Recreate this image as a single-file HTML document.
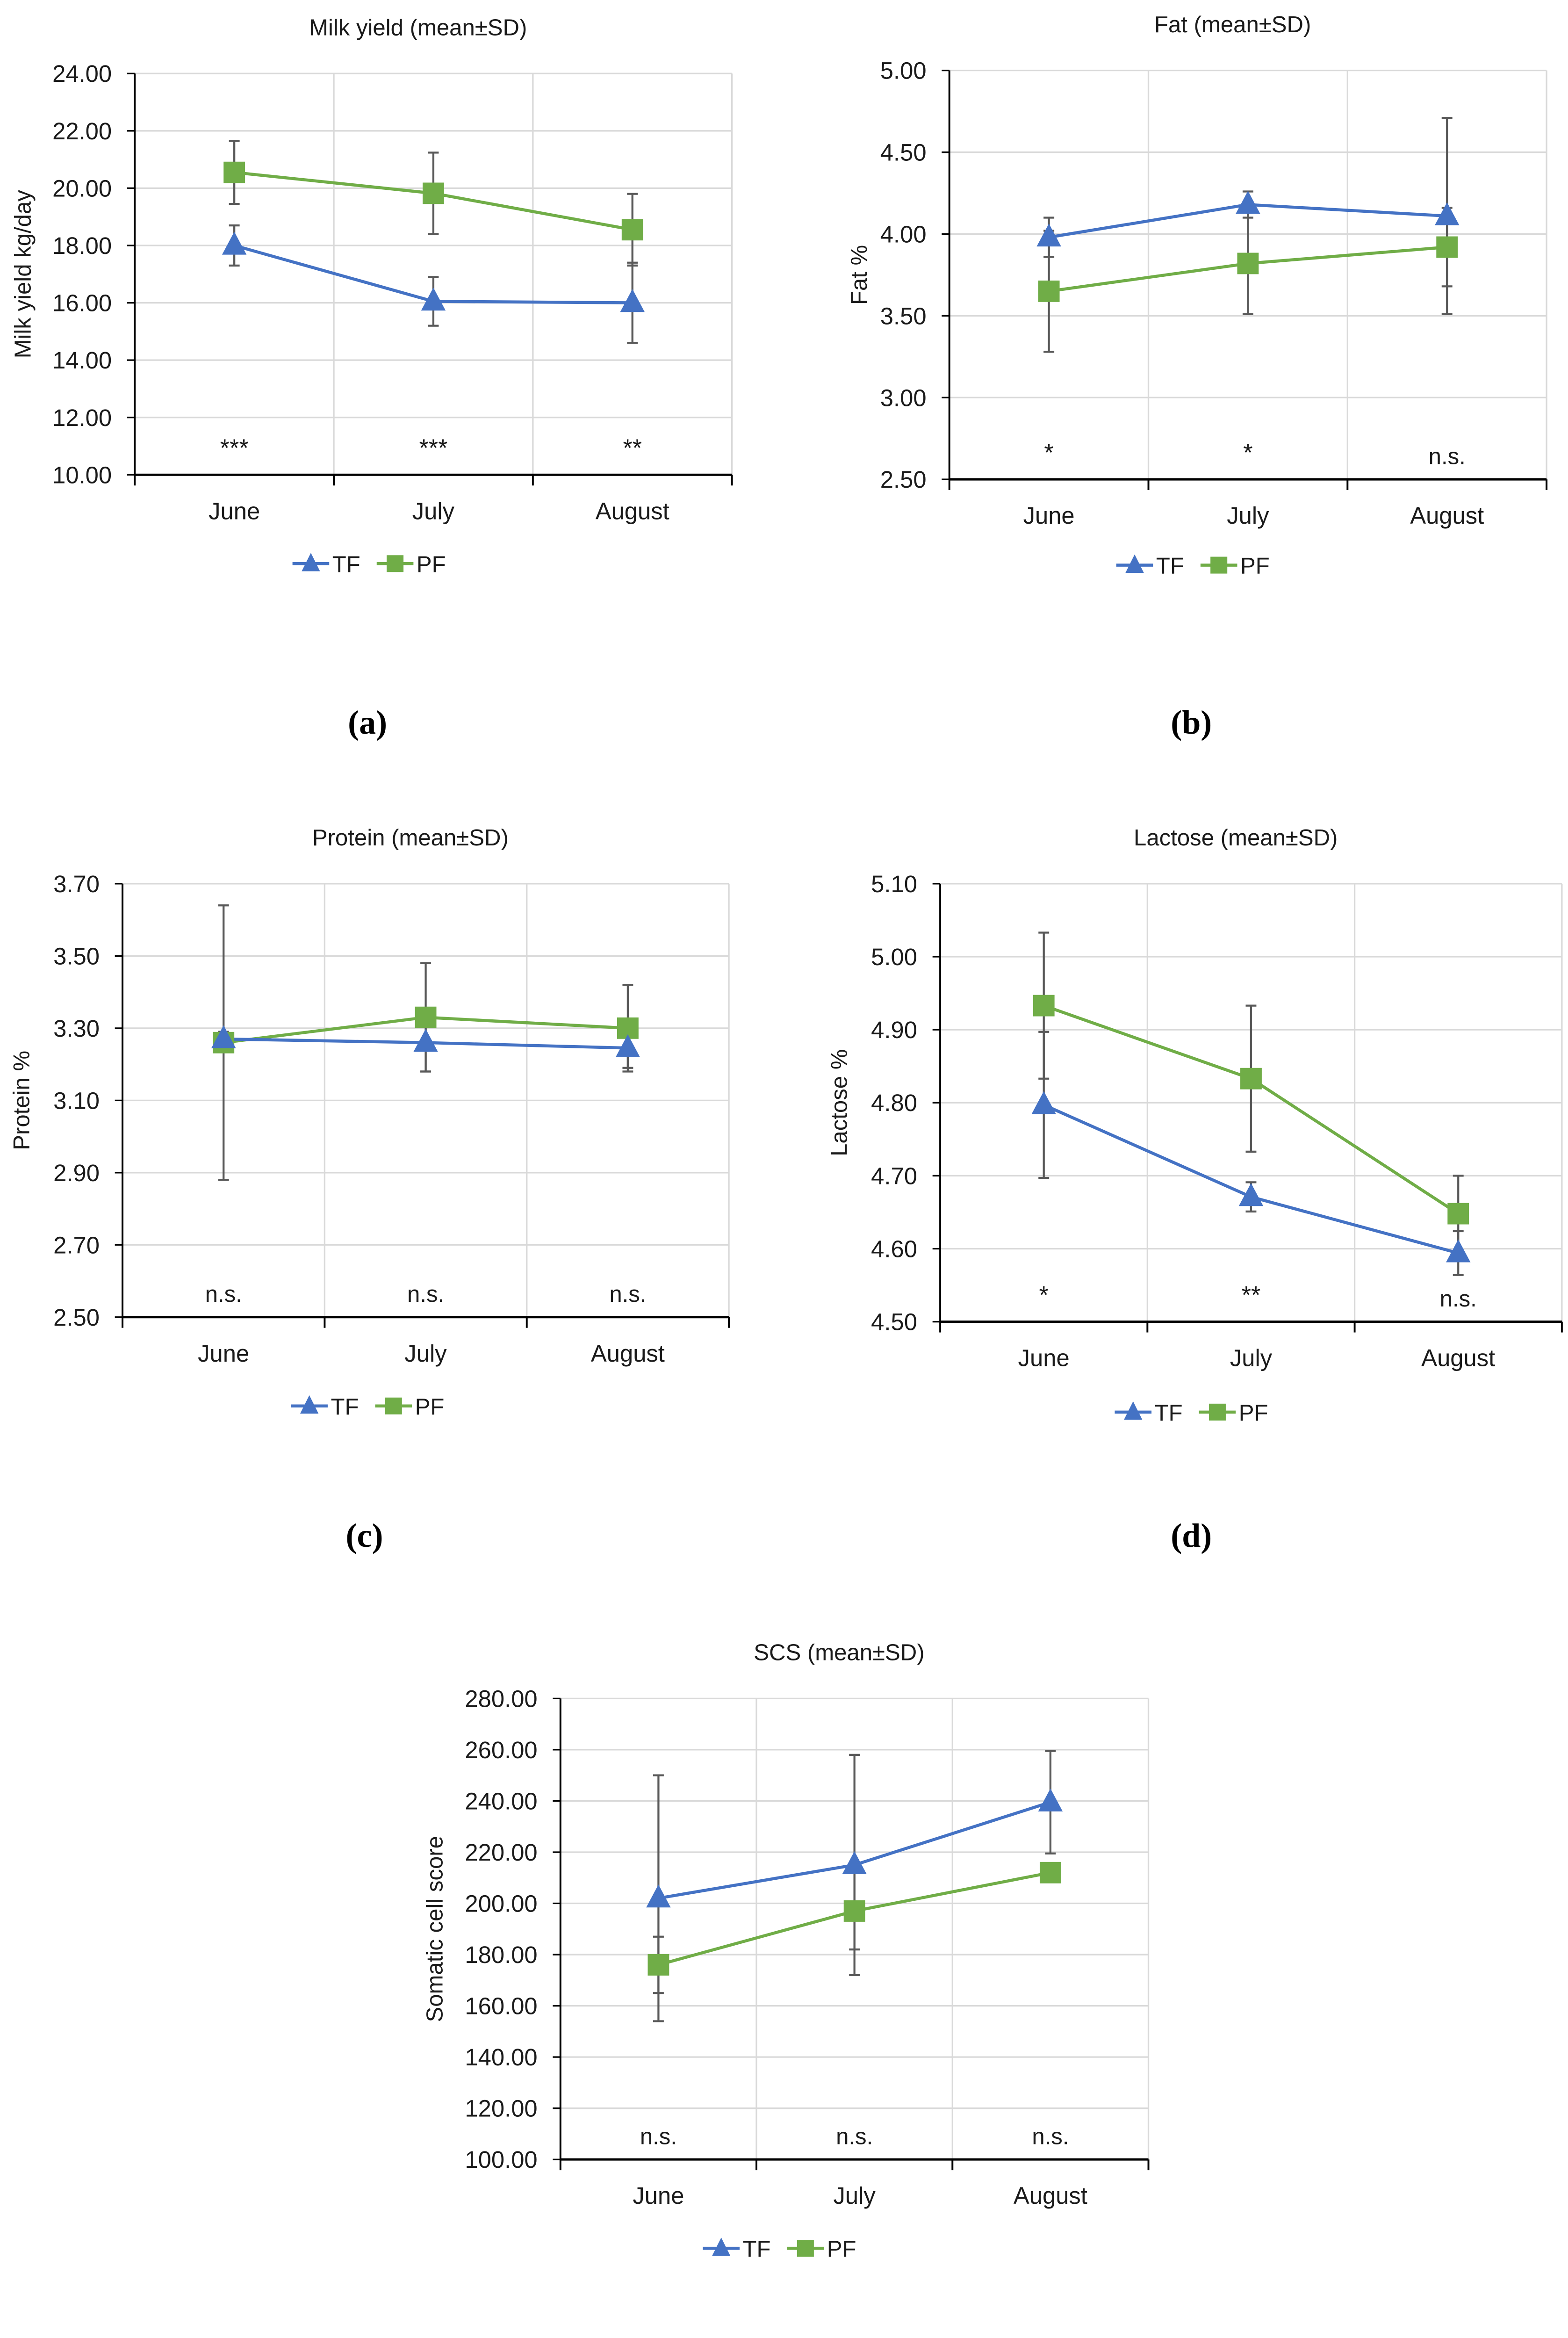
<!DOCTYPE html>
<html><head><meta charset="utf-8"><style>
html,body{margin:0;padding:0;background:#fff;width:3354px;height:5120px;overflow:hidden;}
svg{display:block;position:absolute;left:0;top:0;}
text{font-family:"Liberation Sans",Arial,sans-serif;fill:#1a1a1a;}
.cap{font-family:"Liberation Serif",serif;font-weight:bold;fill:#000;}
</style></head><body>
<svg id="fig" width="3354" height="5120" viewBox="0 0 1024 1563.2" xmlns="http://www.w3.org/2000/svg"></svg>
<script>
const categories = ["June","July","August"];
const legendNames = ["TF","PF"];
// Panel a: Milk yield
const milkTicks = ["10.00","12.00","14.00","16.00","18.00","20.00","22.00","24.00"];
const milkTF = [18.0,16.05,16.0];
const milkTFsd = [0.7,0.85,1.4];
const milkPF = [20.55,19.82,18.55];
const milkPFsd = [1.1,1.42,1.25];
const milkSig = ["***","***","**"];
// Panel b: Fat
const fatTicks = ["2.50","3.00","3.50","4.00","4.50","5.00"];
const fatTF = [3.98,4.18,4.11];
const fatTFsd = [0.12,0.08,0.6];
const fatPF = [3.65,3.82,3.92];
const fatPFsd = [0.37,0.31,0.24];
const fatSig = ["*","*","n.s."];
// Panel c: Protein
const protTicks = ["2.50","2.70","2.90","3.10","3.30","3.50","3.70"];
const protTF = [3.27,3.26,3.245];
const protTFsd = [0.02,0.08,0.055];
const protPF = [3.26,3.33,3.30];
const protPFsd = [0.38,0.15,0.12];
const protSig = ["n.s.","n.s.","n.s."];
// Panel d: Lactose
const lacTicks = ["4.50","4.60","4.70","4.80","4.90","5.00","5.10"];
const lacTF = [4.797,4.671,4.594];
const lacTFsd = [0.1,0.02,0.03];
const lacPF = [4.933,4.833,4.648];
const lacPFsd = [0.1,0.1,0.052];
const lacSig = ["*","**","n.s."];
// Panel e: SCS
const scsTicks = ["100.00","120.00","140.00","160.00","180.00","200.00","220.00","240.00","260.00","280.00"];
const scsTF = [202,215,239.5];
const scsTFsd = [48,43,20];
const scsPF = [176,197,212];
const scsPFsd = [11,15,0];
const scsSig = ["n.s.","n.s.","n.s."];

const NS="http://www.w3.org/2000/svg";
const svg=document.getElementById('fig');
function mk(tag,attrs,parent){const e=document.createElementNS(NS,tag);for(const k in attrs)e.setAttribute(k,attrs[k]);(parent||svg).appendChild(e);return e;}

function panel(o){
  const g=mk('g',{});
  
  
  const ticks=o.ticks.map(Number);
  const ymin=ticks[0],ymax=ticks[ticks.length-1];
  const y=v=>o.B-(v-ymin)/(ymax-ymin)*(o.B-o.T);
  const cw=(o.R-o.L)/categories.length;
  const x=i=>o.L+cw*(i+0.5);
  const t=mk('text',{x:(o.L+o.R)/2-10,y:o.T-25,'text-anchor':'middle','font-size':15},g);t.textContent=o.title;
  
  
  o.ticks.forEach((lab,i)=>{const v=ticks[i];const yy=y(v);
    if(i>0){const gl=mk('line',{x1:o.L,x2:o.R,y1:yy,y2:yy,stroke:'#d9d9d9','stroke-width':1},g);
      }
    mk('line',{x1:o.L-5,x2:o.L,y1:yy,y2:yy,stroke:'#000','stroke-width':1},g);
    const tl=mk('text',{x:o.L-15,y:yy+5.5,'text-anchor':'end','font-size':15.5},g);tl.textContent=lab;
    
  });
  for(let i=1;i<=categories.length;i++){const xx=o.L+cw*i;
    mk('line',{x1:xx,x2:xx,y1:o.T,y2:o.B,stroke:'#d9d9d9','stroke-width':1},g);
  }
  for(let i=0;i<=categories.length;i++){const xx=o.L+cw*i;mk('line',{x1:xx,x2:xx,y1:o.B,y2:o.B+7,stroke:'#000','stroke-width':1.2},g);}
  const ya=mk('line',{x1:o.L,x2:o.L,y1:o.T,y2:o.B,stroke:'#000','stroke-width':1.2},g);
  
  const xa=mk('line',{x1:o.L,x2:o.R,y1:o.B,y2:o.B,stroke:'#000','stroke-width':1.5},g);
  
  categories.forEach((c,i)=>{const tl=mk('text',{x:x(i),y:o.B+29,'text-anchor':'middle','font-size':15.5},g);tl.textContent=c;
    });
  const yt=mk('text',{x:0,y:0,'text-anchor':'middle','font-size':15,transform:`translate(${o.yx},${(o.T+o.B)/2}) rotate(-90)`},g);yt.textContent=o.ytitle;
  
  o.sig.forEach((s,i)=>{const st=mk('text',{x:x(i),y:o.B-(s==='n.s.'?10:12),'text-anchor':'middle','font-size':s==='n.s.'?15:16},g);st.textContent=s;
    });
  const eb=(vals,sds)=>vals.forEach((v,i)=>{if(!sds[i])return;const xx=x(i),y1=y(v+sds[i]),y2=y(v-sds[i]);
    const e=mk('path',{d:`M${xx},${y1}V${y2}M${xx-3.5},${y1}H${xx+3.5}M${xx-3.5},${y2}H${xx+3.5}`,stroke:'#595959','stroke-width':1.3,fill:'none'},g);
    });
  eb(o.tf,o.tfsd);eb(o.pf,o.pfsd);
  const line=(vals,col,name)=>{const p=mk('polyline',{points:vals.map((v,i)=>x(i)+','+y(v)).join(' '),stroke:col,'stroke-width':2,fill:'none'},g);
    };
  line(o.pf,'#70ad47','pf-line');line(o.tf,'#4472c4','tf-line');
  o.pf.forEach((v,i)=>{const r=mk('rect',{x:x(i)-7,y:y(v)-7,width:14,height:14,fill:'#70ad47'},g);
    });
  o.tf.forEach((v,i)=>{const xx=x(i),yy=y(v);const p=mk('polygon',{points:`${xx},${yy-9} ${xx-8},${yy+6} ${xx+8},${yy+6}`,fill:'#4472c4'},g);
    });
  const lx=o.legX,ly=o.legY;
  const lg=mk('g',{},g);
  mk('line',{x1:lx-12,x2:lx+12,y1:ly,y2:ly,stroke:'#4472c4','stroke-width':2},lg);
  mk('polygon',{points:`${lx},${ly-7} ${lx-6},${ly+5} ${lx+6},${ly+5}`,fill:'#4472c4'},lg);
  const t1=mk('text',{x:lx+14,y:ly+5.5,'font-size':15},lg);t1.textContent=legendNames[0];
  
  const px=lx+55;
  mk('line',{x1:px-12,x2:px+12,y1:ly,y2:ly,stroke:'#70ad47','stroke-width':2},lg);
  mk('rect',{x:px-5.5,y:ly-5.5,width:11,height:11,fill:'#70ad47'},lg);
  const t2=mk('text',{x:px+14,y:ly+5.5,'font-size':15},lg);t2.textContent=legendNames[1];
  
  const cp=mk('text',{x:o.capX,y:o.capY,'text-anchor':'middle','font-size':22,class:'cap'},g);cp.textContent=o.cap;
  
}

panel({id:'milk-yield',title:'Milk yield (mean±SD)',ytitle:'Milk yield kg/day',yx:20,L:88,R:478,T:48,B:310,ticks:milkTicks,tf:milkTF,tfsd:milkTFsd,pf:milkPF,pfsd:milkPFsd,sig:milkSig,legX:203,legY:368,cap:'(a)',capX:240,capY:479});
panel({id:'fat',title:'Fat (mean±SD)',ytitle:'Fat %',yx:566,L:620,R:1010,T:46,B:313,ticks:fatTicks,tf:fatTF,tfsd:fatTFsd,pf:fatPF,pfsd:fatPFsd,sig:fatSig,legX:741,legY:369,cap:'(b)',capX:778,capY:479});
panel({id:'protein',title:'Protein (mean±SD)',ytitle:'Protein %',yx:19,L:80,R:476,T:577,B:860,ticks:protTicks,tf:protTF,tfsd:protTFsd,pf:protPF,pfsd:protPFsd,sig:protSig,legX:202,legY:918,cap:'(c)',capX:238,capY:1010});
panel({id:'lactose',title:'Lactose (mean±SD)',ytitle:'Lactose %',yx:553,L:614,R:1020,T:577,B:863,ticks:lacTicks,tf:lacTF,tfsd:lacTFsd,pf:lacPF,pfsd:lacPFsd,sig:lacSig,legX:740,legY:922,cap:'(d)',capX:778,capY:1010});
panel({id:'scs',title:'SCS (mean±SD)',ytitle:'Somatic cell score',yx:289,L:366,R:750,T:1109,B:1410,ticks:scsTicks,tf:scsTF,tfsd:scsTFsd,pf:scsPF,pfsd:scsPFsd,sig:scsSig,legX:471,legY:1468,cap:'(e)',capX:508,capY:1549});
</script>
</body></html>
